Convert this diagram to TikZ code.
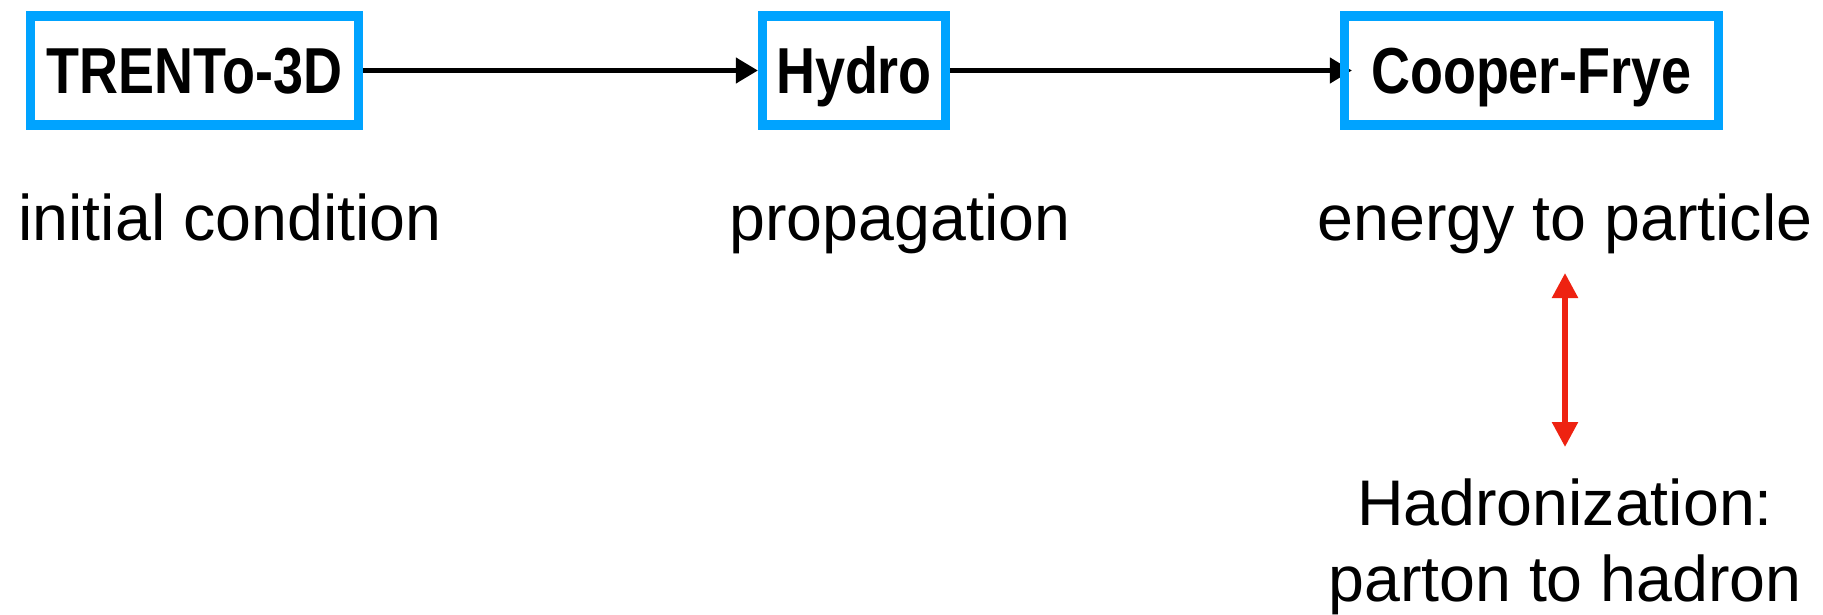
\documentclass[tikz,border=0pt]{standalone}
\usepackage{fontspec}
\setmainfont{Liberation Sans}
\newfontfamily\boxfont[FakeStretch=0.83]{Liberation Sans}
\usetikzlibrary{arrows.meta}
\pgfdeclarelayer{background}
\pgfsetlayers{background,main}
\definecolor{boxblue}{RGB}{0,163,255}
\definecolor{arrred}{RGB}{238,34,17}
\tikzset{
  stagebox/.style={draw=boxblue, line width=9.3pt, inner sep=0pt, minimum height=109pt,
    text height=46.5pt, text depth=0pt, font=\boxfont\bfseries\fontsize{65}{78}\selectfont},
  caption/.style={inner sep=0pt, anchor=base, align=center, font=\fontsize{64.5}{76}\selectfont},
  flow/.style={line width=4.5pt, -{Triangle[length=22pt,width=25pt]}},
  twoway/.style={arrred, line width=5.5pt, {Triangle[length=25pt,width=25pt]}-{Triangle[length=25pt,width=25pt]}}
}
\begin{document}
\begin{tikzpicture}[x=1pt,y=-1pt]
\useasboundingbox (0,0) rectangle (1823,615);
\node[stagebox, minimum width=328pt] (trento) at (194.5,70.5) {TRENTo-3D};
\node[stagebox, minimum width=183pt] (hydro) at (854,70.5) {Hydro};
\node[stagebox, minimum width=374pt] (cf) at (1531.5,70.5) {Cooper-Frye};
\node[caption] (lab1) at (230,240) {initial condition};
\node[caption] (lab2) at (900,240) {propagation};
\node[caption] (lab3) at (1565,240) {energy to particle};
\node[caption] (had) at (1565,601) {Hadronization:\\parton to hadron};
\coordinate (rt) at (1565,273);
\coordinate (rb) at (1565,447);
\begin{pgfonlayer}{background}
\draw[flow] (trento.east) -- (hydro.west);
\draw[flow, shorten >=-12pt] (hydro.east) -- (cf.west);
\end{pgfonlayer}
\draw[twoway] (rt) -- (rb);
\end{tikzpicture}
\end{document}
